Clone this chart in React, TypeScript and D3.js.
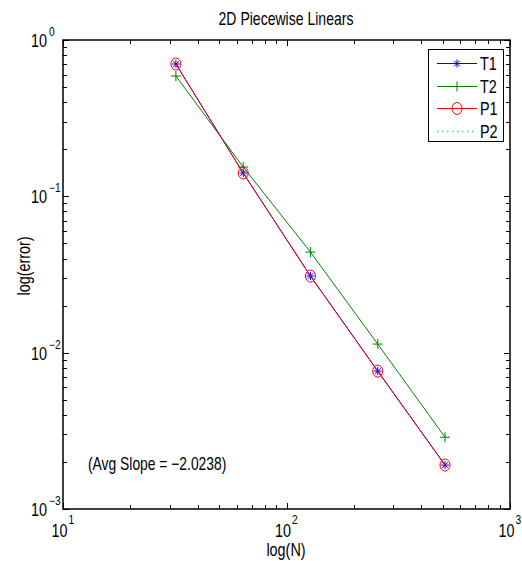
import React, { useEffect, useRef } from "react";
import * as d3 from "d3";

// values
const N = [32, 64, 128, 256, 512];
const T1 = [0.702, 0.141, 0.0309, 0.00762, 0.00191];
const T2 = [0.588, 0.154, 0.044, 0.01135, 0.00288];
const P1 = [0.702, 0.141, 0.0309, 0.00762, 0.00191];
const P2 = [0.702, 0.141, 0.0309, 0.00762, 0.00191];
const legendNames = ["T1", "T2", "P1", "P2"];
const xDecades = [1, 2, 3];
const yDecades = [-3, -2, -1, 0];

const FONT = "'Liberation Sans', Arial, sans-serif";

// text squeezed horizontally (reference uses a tall narrow helvetica)
// returns the drawn width
const txt = (parent: any, x: number, y: number, s: string, size: number,
  anchor = "start", sx = 0.8, rot = 0) => {
  const t = parent.append("text")
    .attr("transform", `translate(${x},${y})${rot ? ` rotate(${rot})` : ""} scale(${sx},1)`)
    .attr("text-anchor", anchor).attr("font-family", FONT).attr("font-size", size).text(s);
  return t.node().getComputedTextLength() * sx;
};

const App = () => {
  const ref = useRef<SVGSVGElement>(null);
  const width = 522;
  const height = 561;
  const margin = { top: 40, right: 12, bottom: 52, left: 63 };

  useEffect(() => {
    document.body.style.margin = "0";
    const svg = d3.select(ref.current);
    svg.selectAll("*").remove();

    const x = d3.scaleLog().domain([10, 1000]).range([margin.left, width - margin.right]);
    const y = d3.scaleLog().domain([1e-3, 1]).range([height - margin.bottom, margin.top]);
    const [x0, x1] = x.range();
    const [y0, y1] = y.range();

    svg.append("rect").attr("width", width).attr("height", height).attr("fill", "white");

    // ticks (inward, all four sides)
    const minorX: number[] = [];
    [10, 100].forEach((d) => d3.range(2, 10).forEach((k) => minorX.push(d * k)));
    const minorY: number[] = [];
    [1e-3, 1e-2, 1e-1].forEach((d) => d3.range(2, 10).forEach((k) => minorY.push(d * k)));
    const tk = svg.append("g").attr("stroke", "black").attr("stroke-width", 1);
    const majX = xDecades.map((e) => Math.pow(10, e));
    const majY = yDecades.map((e) => Math.pow(10, e));
    majX.concat(minorX).forEach((v, i) => {
      const len = i < majX.length ? 6 : 4;
      const px = Math.round(x(v)) + 0.5;
      tk.append("line").attr("x1", px).attr("x2", px).attr("y1", y0).attr("y2", y0 - len);
      tk.append("line").attr("x1", px).attr("x2", px).attr("y1", y1).attr("y2", y1 + len);
    });
    majY.concat(minorY).forEach((v, i) => {
      const len = i < majY.length ? 6 : 4;
      const py = Math.round(y(v)) + 0.5;
      tk.append("line").attr("x1", x0).attr("x2", x0 + len).attr("y1", py).attr("y2", py);
      tk.append("line").attr("x1", x1).attr("x2", x1 - len).attr("y1", py).attr("y2", py);
    });

    // tick labels 10^k
    xDecades.forEach((e) => {
      const cx = x(Math.pow(10, e));
      const w = txt(svg, cx - 11.5, y0 + 28, "10", 18);
      txt(svg, cx - 11.5 + w + 1, y0 + 15, String(e), 12, "start", 0.85);
    });
    yDecades.forEach((e) => {
      const cy = y(Math.pow(10, e));
      txt(svg, 47, cy + 7, "10", 18, "end");
      txt(svg, 49, cy - 4, e < 0 ? "\u2212" + -e : String(e), 12, "start", 0.85);
    });

    const line = d3.line<number>().x((_, i) => x(N[i])).y((d) => y(d));

    const drawAsterisk = (g: any, cx: number, cy: number, color: string) => {
      const r = 4;
      const p = `M${cx - r},${cy}H${cx + r}M${cx},${cy - r}V${cy + r}` +
        `M${cx - r * 0.7},${cy - r * 0.7}L${cx + r * 0.7},${cy + r * 0.7}` +
        `M${cx - r * 0.7},${cy + r * 0.7}L${cx + r * 0.7},${cy - r * 0.7}`;
      g.append("path").attr("d", p).attr("stroke", color).attr("fill", "none");
    };
    const drawPlus = (g: any, cx: number, cy: number, color: string) => {
      const r = 5;
      g.append("path").attr("d", `M${cx - r},${cy}H${cx + r}M${cx},${cy - r}V${cy + r}`)
        .attr("stroke", color).attr("fill", "none");
    };
    const drawCircle = (g: any, cx: number, cy: number, color: string) => {
      g.append("ellipse").attr("cx", cx).attr("cy", cy).attr("rx", 5).attr("ry", 6)
        .attr("stroke", color).attr("fill", "none");
    };

    const plot = svg.append("g");
    // T1
    plot.append("path").attr("d", line(T1)).attr("stroke", "#0000ff").attr("fill", "none");
    T1.forEach((v, i) => drawAsterisk(plot, x(N[i]), y(v), "#0000ff"));
    // T2
    plot.append("path").attr("d", line(T2)).attr("stroke", "#008000").attr("fill", "none");
    T2.forEach((v, i) => drawPlus(plot, x(N[i]), y(v), "#008000"));
    // P1
    plot.append("path").attr("d", line(P1)).attr("stroke", "#ff0000").attr("stroke-opacity", 0.92).attr("fill", "none");
    P1.forEach((v, i) => drawCircle(plot, x(N[i]), y(v), "#ff0000"));
    // P2 (dotted, hidden under P1 in the reference)
    plot.append("path").attr("d", line(P2)).attr("stroke", "#00bfbf").attr("stroke-dasharray", "1,3")
      .attr("stroke-opacity", 0).attr("fill", "none");

    // axes box
    svg.append("rect").attr("x", x0).attr("y", y1).attr("width", x1 - x0).attr("height", y0 - y1)
      .attr("fill", "none").attr("stroke", "black").attr("stroke-width", 1.5);

    // legend
    const lg = svg.append("g");
    lg.append("rect").attr("x", 428.5).attr("y", 49.5).attr("width", 75).attr("height", 92)
      .attr("fill", "white").attr("stroke", "black");
    const colors = ["#0000ff", "#008000", "#ff0000", "#00bfbf"];
    legendNames.forEach((name, i) => {
      const cy = Math.round(63 + i * 22.5) + 0.5;
      const l = lg.append("line").attr("x1", 437).attr("x2", 477).attr("y1", cy).attr("y2", cy)
        .attr("stroke", colors[i]);
      if (i === 3) l.attr("stroke", "#40d0d0").attr("stroke-width", 1.3).attr("stroke-dasharray", "1.5,3.5");
      if (i === 0) drawAsterisk(lg, 457, cy, colors[i]);
      if (i === 1) drawPlus(lg, 457, cy, colors[i]);
      if (i === 2) drawCircle(lg, 457, cy, colors[i]);
      txt(lg, 480, cy + 6.5, name, 18);
    });

    // texts
    txt(svg, 286, 25, "2D Piecewise Linears", 18, "middle", 0.78);
    txt(svg, 286, 556, "log(N)", 18, "middle");
    txt(svg, 30, 266, "log(error)", 18, "middle", 0.8, -90);
    txt(svg, 88, 470, "(Avg Slope = \u22122.0238)", 18, "start", 0.77);
  }, []);

  return <svg ref={ref} width={width} height={height} style={{ display: "block" }} />;
};

export default App;
